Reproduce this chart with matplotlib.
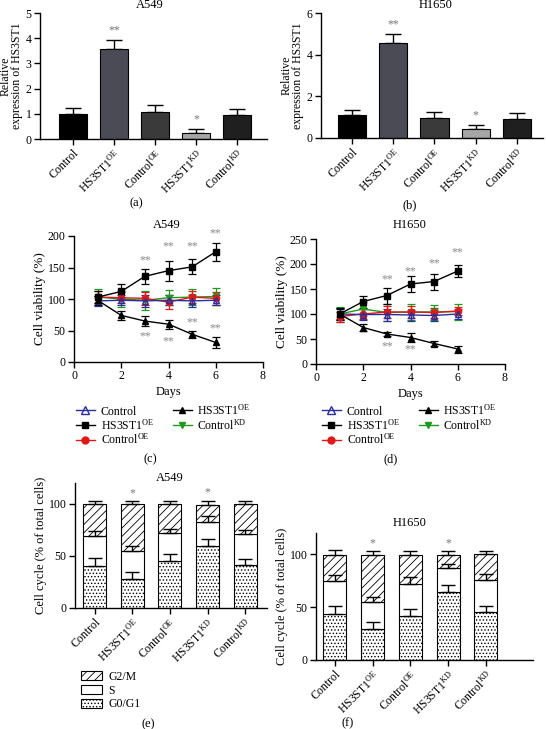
import numpy as np
import matplotlib
matplotlib.use("Agg")
import matplotlib.pyplot as plt
from matplotlib.lines import Line2D
from matplotlib.patches import Patch

plt.rcParams['font.family'] = ['Liberation Serif', 'DejaVu Serif']
plt.rcParams['mathtext.default'] = 'regular'
plt.rcParams['hatch.linewidth'] = 0.6
plt.rcParams['axes.linewidth'] = 1.0

W, H = 546, 729

# ---- data ----
groups = ["Control", "HS3ST1$^{OE}$", "Control$^{OE}$", "HS3ST1$^{KD}$", "Control$^{KD}$"]

# (a) / (b) relative expression
expr_a = [1.0, 3.58, 1.07, 0.25, 0.97]
expr_a_err = [0.22, 0.33, 0.28, 0.15, 0.23]
expr_b = [1.1, 4.55, 0.97, 0.43, 0.92]
expr_b_err = [0.25, 0.45, 0.27, 0.18, 0.30]
bar_colors = ['#000000', '#4b4b55', '#3a3a3a', '#a6a6a6', '#1f1f1f']
sig_a = ['', '**', '', '*', '']
sig_b = ['', '**', '', '*', '']

# (c) / (d) cell viability
days = [1, 2, 3, 4, 5, 6]
c_ctrl = [97, 98, 97, 98, 97, 98]
c_ctrl_err = [8, 8, 9, 8, 9, 8]
c_ctrl_oe = [103, 102, 101, 95, 103, 101]
c_ctrl_oe_err = [9, 9, 10, 11, 10, 10]
c_ctrl_kd = [103, 100, 98, 102, 103, 104]
c_ctrl_kd_err = [13, 12, 15, 12, 13, 14]
c_oe = [103, 112, 136, 145, 151, 175]
c_oe_err = [10, 12, 12, 16, 12, 14]
c_kd = [98, 74, 65, 60, 44, 31]
c_kd_err = [7, 7, 8, 7, 6, 8]
c_star_up = [(3, 161), (4, 184), (5, 184), (6, 204)]
c_star_dn = [(3, 41), (4, 33), (5, 63), (6, 53)]

d_ctrl = [100, 99, 99, 98, 97, 100]
d_ctrl_err = [12, 11, 12, 11, 11, 10]
d_ctrl_oe = [95, 100, 104, 104, 103, 106]
d_ctrl_oe_err = [10, 10, 12, 12, 10, 8]
d_ctrl_kd = [100, 110, 103, 104, 104, 105]
d_ctrl_kd_err = [15, 14, 17, 16, 15, 16]
d_oe = [100, 125, 137, 160, 165, 186]
d_oe_err = [12, 12, 16, 16, 16, 12]
d_kd = [100, 73, 60, 53, 41, 30]
d_kd_err = [10, 7, 4, 9, 5, 7]
d_star_up = [(3, 170), (4, 185), (5, 202), (6, 224)]
d_star_dn = [(3, 35), (4, 29)]

# (e) / (f) cell cycle: cumulative tops of each phase
e_g0 = [40.6, 27.6, 45.4, 59.4, 41.3]
e_g0_err = [7, 6.5, 6.3, 7.3, 5.4]
e_s_top = [69.5, 55, 72, 82.5, 70.8]
e_s_err = [4.2, 5, 4, 5.5, 3.8]
e_tot = [100, 100, 99.5, 99.3, 100]
e_tot_err = [2.5, 2.5, 3, 3.5, 2.5]
e_sig = ['', '*', '', '*', '']

f_g0 = [43, 29, 42, 64, 45]
f_g0_err = [8, 7, 6, 7, 6]
f_s_top = [75, 55, 72, 87, 76]
f_s_err = [5, 5, 6, 4, 5]
f_tot = [99, 99, 99, 99, 100]
f_tot_err = [5, 4, 4, 4, 3]
f_sig = ['', '*', '', '*', '']

fig = plt.figure(figsize=(W / 100, H / 100), dpi=100)


def ax_px(l, t, r, b):
    return fig.add_axes([l / W, 1 - b / H, (r - l) / W, (b - t) / H])


def ftext(x, y, s, **kw):
    fig.text(x / W, 1 - y / H, s, ha='center', va='center', **kw)


def style(ax):
    for s in ['top', 'right']:
        ax.spines[s].set_visible(False)
    ax.tick_params(direction='out', length=4, width=1, labelsize=8.5, pad=2)


def expr_panel(ax, vals, errs, sig, ymax, yticks, xl):
    x = np.arange(len(groups))
    ax.bar(x, vals, width=0.68, color=bar_colors, edgecolor='black', linewidth=0.8, zorder=2)
    ax.errorbar(x, vals, yerr=[np.zeros(len(vals)), errs], fmt='none', ecolor='black',
                elinewidth=1, capsize=6, capthick=1, zorder=1)
    for xi, v, e, s in zip(x, vals, errs, sig):
        if s:
            ax.text(xi, v + e + ymax * 0.03, s, ha='center', va='bottom', color='#777777', fontsize=8.5)
    ax.set_ylim(0, ymax)
    ax.set_yticks(yticks)
    ax.set_xlim(*xl)
    ax.set_xticks(x)
    ax.set_xticklabels(groups, rotation=45, ha='right', rotation_mode='anchor')
    ax.set_ylabel('Relative\nexpression of HS3ST1', fontsize=8.5, linespacing=0.95, labelpad=2)
    style(ax)


def viab_panel(ax, series, up, dn, ymax, yticks):
    for y, e, col, mk, mfc, ms in series:
        ax.errorbar(days, y, yerr=e, color=col, marker=mk, mfc=mfc, mec=col, ms=ms,
                    lw=1, elinewidth=0.9, capsize=3, capthick=0.9)
    for d, v in up + dn:
        ax.text(d, v, '**', ha='center', va='center', color='#8a8a8a', fontsize=8.5)
    ax.set_xlim(0, 8)
    ax.set_xticks([0, 2, 4, 6, 8])
    ax.set_ylim(0, ymax)
    ax.set_yticks(yticks)
    ax.set_xlabel('Days', fontsize=9, labelpad=3)
    ax.set_ylabel('Cell viability (%)', fontsize=9.5, labelpad=1)
    style(ax)


def cycle_panel(ax, g0, g0e, s_top, s_e, tot, tot_e, sig, xl):
    x = np.arange(len(groups))
    w = 0.61
    s_h = np.array(s_top) - np.array(g0)
    g2_h = np.array(tot) - np.array(s_top)
    ax.bar(x, g0, width=w, color='white', edgecolor='black', hatch='.....', linewidth=0.8, zorder=2)
    ax.bar(x, s_h, bottom=g0, width=w, color='white', edgecolor='black', linewidth=0.8, zorder=2)
    ax.bar(x, g2_h, bottom=s_top, width=w, color='white', edgecolor='black', hatch='////',
           linewidth=0.8, zorder=2)
    for y, e in [(g0, g0e), (s_top, s_e), (tot, tot_e)]:
        ax.errorbar(x, y, yerr=[np.zeros(len(y)), e], fmt='none', ecolor='black',
                    elinewidth=1, capsize=5, capthick=1, zorder=3)
    for xi, t, e, s in zip(x, tot, tot_e, sig):
        if s:
            ax.text(xi, t + e + 2, s, ha='center', va='bottom', color='#777777', fontsize=8.5)
    ax.set_ylim(0, 120)
    ax.set_yticks([0, 50, 100])
    ax.set_xlim(*xl)
    ax.set_xticks(x)
    ax.set_xticklabels(groups, rotation=45, ha='right', rotation_mode='anchor')
    ax.set_ylabel('Cell cycle (% of total cells)', fontsize=9, labelpad=1)
    style(ax)


# (a)
ax_a = ax_px(40, 13, 267, 139)
expr_panel(ax_a, expr_a, expr_a_err, sig_a, 5, [0, 1, 2, 3, 4, 5], (-0.8, 4.73))
ftext(150, 5, 'A549', fontsize=9)
ftext(136, 203, '(a)', fontsize=9)

# (b)
ax_b = ax_px(321, 13, 543, 138)
expr_panel(ax_b, expr_b, expr_b_err, sig_b, 6, [0, 2, 4, 6], (-0.75, 4.63))
ftext(436, 5, 'H1650', fontsize=9)
ftext(410, 205, '(b)', fontsize=9)

blue, red, green = '#2b2f9a', '#e01818', '#1e9a1e'

# (c)
ax_c = ax_px(74, 236, 263, 362)
viab_panel(ax_c, [
    (c_ctrl_kd, c_ctrl_kd_err, green, 'v', green, 4.5),
    (c_ctrl_oe, c_ctrl_oe_err, red, 'o', red, 4.5),
    (c_ctrl, c_ctrl_err, blue, '^', 'none', 5),
    (c_oe, c_oe_err, 'black', 's', 'black', 5),
    (c_kd, c_kd_err, 'black', '^', 'black', 4.5),
], c_star_up, c_star_dn, 200, [0, 50, 100, 150, 200])
ftext(167, 225, 'A549', fontsize=9)
ftext(150, 459, '(c)', fontsize=9)

# (d)
ax_d = ax_px(316, 239, 505, 364)
viab_panel(ax_d, [
    (d_ctrl_kd, d_ctrl_kd_err, green, 'v', green, 4.5),
    (d_ctrl_oe, d_ctrl_oe_err, red, 'o', red, 4.5),
    (d_ctrl, d_ctrl_err, blue, '^', 'none', 5),
    (d_oe, d_oe_err, 'black', 's', 'black', 5),
    (d_kd, d_kd_err, 'black', '^', 'black', 4.5),
], d_star_up, d_star_dn, 250, [0, 50, 100, 150, 200, 250])
ftext(410, 225, 'H1650', fontsize=9)
ftext(391, 459, '(d)', fontsize=9)

leg_handles = [
    Line2D([], [], color=blue, marker='^', mfc='none', mec=blue, ms=6, lw=1),
    Line2D([], [], color='black', marker='s', ms=5, lw=1),
    Line2D([], [], color=red, marker='o', ms=5, lw=1),
    Line2D([], [], color='black', marker='^', ms=5, lw=1),
    Line2D([], [], color=green, marker='v', ms=5, lw=1),
]
leg_labels = ['Control', 'HS3ST1$^{OE}$', 'Control$^{OE}$', 'HS3ST1$^{OE}$', 'Control$^{KD}$']
for ax, x0 in [(ax_c, 70), (ax_d, 316)]:
    ax.legend(leg_handles, leg_labels, ncol=2, loc='upper left', bbox_to_anchor=(x0 / W, 1 - 397 / H),
              bbox_transform=fig.transFigure, frameon=False, fontsize=8.5, handlelength=1.6,
              handletextpad=0.5, columnspacing=1.6, labelspacing=0.0, borderpad=0)

# (e)
ax_e = ax_px(75, 483, 267, 608)
cycle_panel(ax_e, e_g0, e_g0_err, e_s_top, e_s_err, e_tot, e_tot_err, e_sig, (-0.52, 4.58))
ftext(170, 478, 'A549', fontsize=9)
ftext(148, 724, '(e)', fontsize=9)
cyc_handles = [
    Patch(facecolor='white', edgecolor='black', hatch='////', lw=0.8),
    Patch(facecolor='white', edgecolor='black', lw=0.8),
    Patch(facecolor='white', edgecolor='black', hatch='.....', lw=0.8),
]
ax_e.legend(cyc_handles, ['G2/M', 'S', 'G0/G1'], loc='upper left',
            bbox_to_anchor=(75 / W, 1 - 665 / H), bbox_transform=fig.transFigure, frameon=False,
            fontsize=8.5, handlelength=1.8, handleheight=0.8, handletextpad=0.5, labelspacing=0.15,
            borderpad=0)

# (f)
ax_f = ax_px(316, 533, 533, 660)
cycle_panel(ax_f, f_g0, f_g0_err, f_s_top, f_s_err, f_tot, f_tot_err, f_sig, (-0.5, 5.25))
ftext(410, 523, 'H1650', fontsize=9)
ftext(348, 723, '(f)', fontsize=9)

fig.savefig('out.png', dpi=100)
